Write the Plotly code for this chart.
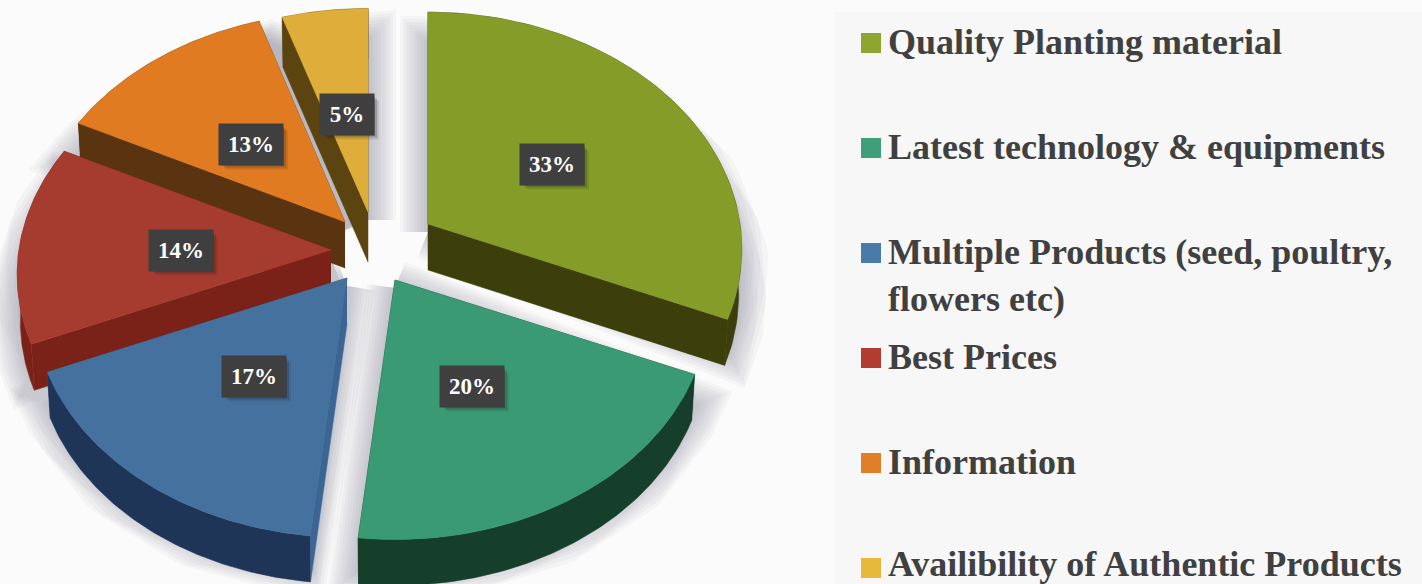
import numpy as np
import plotly.graph_objects as go

categories = ["Quality Planting material", "Latest technology & equipments",
              "Multiple Products (seed, poultry,<br>flowers etc)", "Best Prices",
              "Information", "Availibility of Authentic Products"]
percent = [33, 20, 17, 14, 13, 5]

top_colors = ["#869c28", "#3a9a74", "#45719f", "#a63b30", "#e07b22", "#dfae3a"]
side_colors = ["#3c3f0b", "#153f2a", "#1e3557", "#7a2217", "#5a3410", "#5c4410"]
cut_colors = ["#3c3f0b", "#153f2a", "#3a6594", "#7a2217", "#5a3410", "#5c4410"]
key_colors = ["#8ea62f", "#3f9f7b", "#4a7aa8", "#b23c30", "#e07f28", "#e6b83c"]

# view geometry of the tilted, exploded pie (pixel-scaled axes)
apex = [(428, 224), (395, 280), (347, 278), (331, 250), (345, 222), (368, 212)]
y_scale = [1.01, 1, 1, 1, 1, 0.97]
depth = [46, 46, 46, 46, 46, 50]
angle_trim = [0, -3.5, -1, 0, 0, 0, 0]
A, B, K, BOTTOM_X = 312, 232, 0.106, 0.99
draw_order = [5, 4, 3, 2, 0, 1]
label_boxes = [(552, 164), (472, 386), (254, 376), (181, 250), (251, 144), (347, 114)]
label_w = [62, 62, 62, 62, 62, 52]
LABEL_H = 39
key_y = [43, 148, 253, 358, 463, 568]
text_y = [42, 147, 253, 357, 462, 564]
key_x, text_x = 871, 886


def project(deg):
    t = np.radians(deg)
    X, Y = np.sin(t), np.cos(t)
    w = 1 + K * Y
    return A * X / w, -B * Y / w


edges = np.cumsum([0] + percent) / sum(percent) * 360 + np.array(angle_trim)
fig = go.Figure()


def poly(xs, ys, color):
    fig.add_trace(go.Scatter(x=list(xs), y=list(ys), mode="lines", fill="toself",
                             fillcolor=color, line=dict(color=color, width=0.5),
                             hoverinfo="skip", showlegend=False))


def outline(i):
    t = np.linspace(edges[i], edges[i + 1], 80)
    ax, ay = project(t)
    return ax + apex[i][0], ay * y_scale[i] + apex[i][1]


# soft shadow
for w in range(56, 2, -6):
    for i in range(6):
        ax, ay = outline(i)
        px, py = apex[i]
        sx = np.r_[px, ax, px]
        sy = np.r_[py, ay + 24, py] + 8
        fig.add_trace(go.Scatter(x=sx, y=sy, mode="lines", fill="toself",
                                 fillcolor="rgba(110,110,125,0.012)",
                                 line=dict(color="rgba(110,110,125,0.048)", width=w),
                                 hoverinfo="skip", showlegend=False))

for i in draw_order:
    px, py = apex[i]
    d = depth[i]
    ax, ay = outline(i)
    bx = px + (ax - px) * BOTTOM_X
    by = ay + d
    # cut faces
    poly([px, ax[0], bx[0], px], [py, ay[0], by[0], py + d], cut_colors[i])
    poly([px, ax[-1], bx[-1], px], [py, ay[-1], by[-1], py + d], cut_colors[i])
    # rim
    poly(np.r_[ax, bx[::-1]], np.r_[ay, by[::-1]], side_colors[i])
    # top surface
    poly(np.r_[px, ax, px], np.r_[py, ay, py], top_colors[i])

fig.add_trace(go.Scatter(x=[key_x] * 6, y=key_y, mode="markers",
                         marker=dict(symbol="square", size=20, color=key_colors, line=dict(width=0)),
                         hoverinfo="skip", showlegend=False))

shapes = [dict(type="rect", x0=835, x1=1422, y0=12, y1=584, layer="below",
               line=dict(width=0), fillcolor="#f7f7f7")]
annotations = []
for (cx, cy), p, bw in zip(label_boxes, percent, label_w):
    for g, alpha in ((6, 0.12), (4, 0.2), (2, 0.3)):
        shapes.append(dict(type="rect", x0=cx - bw / 2 + g, x1=cx + bw / 2 + g,
                           y0=cy - LABEL_H / 2 + g, y1=cy + LABEL_H / 2 + g, layer="above",
                           line=dict(width=0), fillcolor=f"rgba(30,30,30,{alpha})"))
    annotations.append(dict(x=cx, y=cy, text=f"<b>{p}%</b>", showarrow=False, width=bw, height=LABEL_H,
                            bgcolor="#3f3f3f", valign="middle", align="center",
                            font=dict(family="Liberation Serif", size=23, color="white")))
for name, y in zip(categories, text_y):
    if "<br>" in name:
        y += 22
    annotations.append(dict(x=text_x, y=y, text=f"<b>{name}</b>", showarrow=False, xanchor="left",
                            yanchor="middle", align="left",
                            font=dict(family="Liberation Serif", size=36, color="#404040")))

fig.update_layout(width=1422, height=584, margin=dict(l=0, r=0, t=0, b=0),
                  paper_bgcolor="#fbfbfb", plot_bgcolor="rgba(0,0,0,0)",
                  xaxis=dict(range=[0, 1422], visible=False, fixedrange=True),
                  yaxis=dict(range=[584, 0], visible=False, fixedrange=True),
                  shapes=shapes, annotations=annotations)
fig.write_html("out.html", config=dict(displayModeBar=False),
               post_script="document.body.style.margin='0';document.body.style.overflow='hidden';")
